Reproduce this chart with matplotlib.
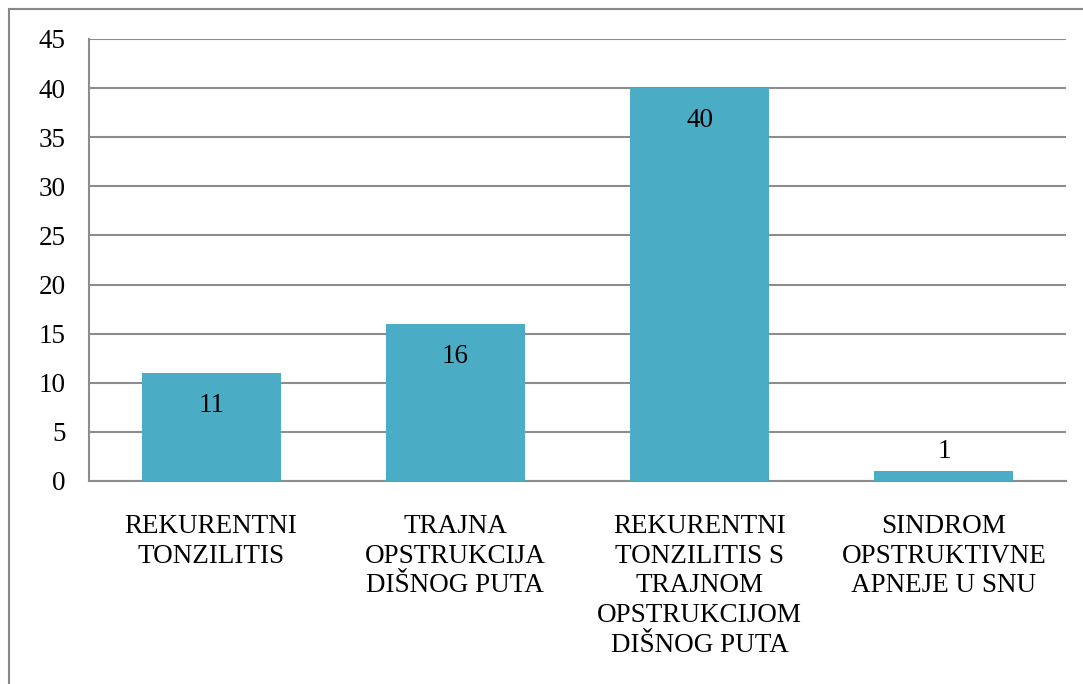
import matplotlib as mpl
mpl.use('Agg')
import matplotlib.pyplot as plt
from matplotlib.patches import Rectangle

plt.rcParams['font.family'] = ['Liberation Serif', 'DejaVu Serif']

categories = ["REKURENTNI\nTONZILITIS",
              "TRAJNA\nOPSTRUKCIJA\nDIŠNOG PUTA",
              "REKURENTNI\nTONZILITIS S\nTRAJNOM\nOPSTRUKCIJOM\nDIŠNOG PUTA",
              "SINDROM\nOPSTRUKTIVNE\nAPNEJE U SNU"]
values = [11, 16, 40, 1]
yticks = [0, 5, 10, 15, 20, 25, 30, 35, 40, 45]

W, H = 1083, 684
fig = plt.figure(figsize=(W / 100, H / 100), dpi=100)
# plot area in pixels: left 89, right 1066, top 39, bottom 481
ax = fig.add_axes([89 / W, 1 - 481 / H, (1066 - 89) / W, (481 - 39) / H])

# outer chart frame (left and top visible, runs off the right/bottom)
fig.patches.append(Rectangle((9 / W, -0.1), 1.2, 1 - 9 / H + 0.1,
                             transform=fig.transFigure, fill=False,
                             edgecolor='#888888', linewidth=1.5))

fs = 19.5
grid_col = '#8c8c8c'
x = range(len(values))
bars = ax.bar(x, values, width=0.57, color='#4BACC6', zorder=3)
ax.set_xlim(-0.5, 3.5)
ax.set_ylim(0, 45)
ax.set_yticks(yticks)
ax.yaxis.grid(True, color=grid_col, linewidth=1.5, zorder=0)
ax.set_xticks(list(x))
ax.set_xticklabels(categories, fontsize=fs, linespacing=1.24)
ax.tick_params(axis='x', length=0, pad=24)
ax.tick_params(axis='y', length=0, pad=17, labelsize=fs)
for lbl in ax.get_yticklabels():
    lbl.set_verticalalignment('center_baseline')
for s in ['top', 'right']:
    ax.spines[s].set_visible(False)
for s in ['left', 'bottom']:
    ax.spines[s].set_color(grid_col)
    ax.spines[s].set_linewidth(1.5)

for i, v in enumerate(values):
    if v > 5:
        ax.text(i, v - 3.3, str(v), ha='center', va='center', fontsize=fs)
    else:
        ax.text(i, v + 2.0, str(v), ha='center', va='center', fontsize=fs)

fig.savefig('out.png', dpi=100)
